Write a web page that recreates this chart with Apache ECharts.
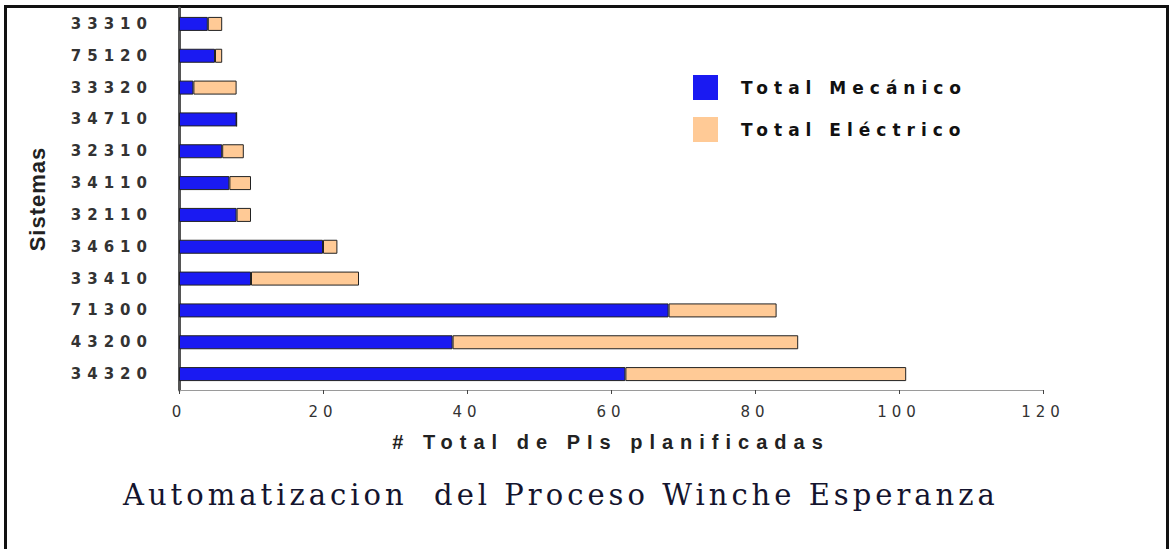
<!DOCTYPE html>
<html>
<head>
<meta charset="utf-8">
<script src="https://cdn.jsdelivr.net/npm/echarts@6/dist/echarts.min.js"></script>
<style>
  html, body { margin: 0; padding: 0; background: #fff; }
  .frame {
    position: absolute; left: 4px; top: 5px; width: 1165px; height: 560px;
    box-sizing: border-box; border: 3px solid #111; border-bottom: none;
  }
  #chart { position: absolute; left: 0; top: 0; width: 1171px; height: 549px; }
</style>
</head>
<body>
<div class="frame"></div>
<div id="chart"></div>
<script>
const categories = ["33310", "75120", "33320", "34710", "32310", "34110", "32110", "34610", "33410", "71300", "43200", "34320"];
const mecanico = [4, 5, 2, 8, 6, 7, 8, 20, 10, 68, 38, 62];
const electrico = [2, 1, 6, 0, 3, 3, 2, 2, 15, 15, 48, 39];
const xTicks = [0, 20, 40, 60, 80, 100, 120];

const chart = echarts.init(document.getElementById("chart"), null, { renderer: "svg" });

const option = {
  animation: false,
  title: {
    text: "Automatizacion  del Proceso Winche Esperanza",
    left: 118,
    top: 475,
    textStyle: {
      fontFamily: "DejaVu Serif",
      fontWeight: "normal",
      fontSize: 29,
      color: "#14142e",
      textShadowColor: "#f2a24a",
      textShadowOffsetX: 1.5,
      textShadowOffsetY: 1,
      textShadowBlur: 0,
    },
  },
  legend: {
    orient: "vertical",
    left: 693,
    top: 75,
    padding: 0,
    itemWidth: 25,
    itemHeight: 25,
    itemGap: 17,
    icon: "rect",
    itemStyle: { borderWidth: 0 },
    textStyle: {
      fontFamily: "DejaVu Sans",
      fontWeight: "bold",
      fontSize: 17,
      color: "#111",
      padding: [0, 0, 0, 18],
    },
    data: ["Total Mecánico", "Total Eléctrico"],
  },
  grid: { left: 179, right: 128, top: 8, bottom: 159 },
  xAxis: {
    type: "value",
    min: xTicks[0],
    max: xTicks[xTicks.length - 1],
    interval: 20,
    name: "# Total de PIs planificadas",
    nameLocation: "middle",
    nameGap: 42,
    nameTextStyle: { fontFamily: "Liberation Sans", fontWeight: "bold", fontSize: 20, color: "#222" },
    axisLine: { show: true, lineStyle: { color: "#9a9a9a", width: 1 } },
    axisTick: { show: true, length: 4, lineStyle: { color: "#444" } },
    splitLine: { show: false },
    axisLabel: { margin: 14, fontFamily: "DejaVu Sans", fontSize: 15, color: "#333" },
  },
  yAxis: {
    type: "category",
    inverse: true,
    data: categories,
    name: "Sistemas",
    nameLocation: "middle",
    nameGap: 131,
    nameTextStyle: { fontFamily: "Liberation Sans Narrow, Liberation Sans", fontWeight: "bold", fontSize: 22, color: "#222" },
    axisLine: { show: true, lineStyle: { color: "#555", width: 3 } },
    axisTick: { show: false },
    axisLabel: { margin: 26, fontFamily: "DejaVu Sans", fontWeight: "bold", fontSize: 15, color: "#333" },
  },
  series: [
    {
      name: "Total Mecánico",
      type: "bar",
      stack: "total",
      barWidth: 14,
      data: mecanico,
      itemStyle: { color: "#1a1af2", borderColor: "#222", borderWidth: 1 },
    },
    {
      name: "Total Eléctrico",
      type: "bar",
      stack: "total",
      barWidth: 14,
      data: electrico,
      itemStyle: { color: "#ffca96", borderColor: "#222", borderWidth: 1 },
    },
  ],
};

chart.setOption(option);

// ECharts has no letter spacing, so add it on the svg text afterwards
function spaceText() {
  const spacing = { "Total Mecánico": 6, "Total Eléctrico": 6, "# Total de PIs planificadas": 7, "Sistemas": 1 };
  categories.forEach((c) => (spacing[c] = 6));
  xTicks.forEach((t) => (spacing[String(t)] = 5));
  spacing[option.title.text] = 4;
  document.querySelectorAll("#chart svg text").forEach((el) => {
    const s = spacing[el.textContent];
    if (s) el.style.letterSpacing = s + "px";
  });
}
chart.on("finished", spaceText);
spaceText();
</script>
</body>
</html>
